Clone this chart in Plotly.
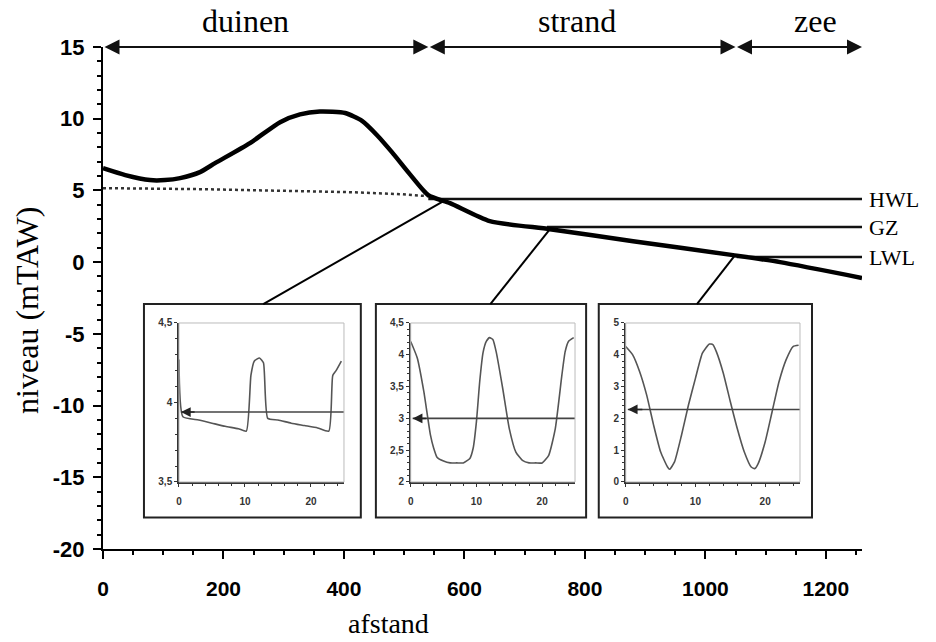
import numpy as np
import plotly.graph_objects as go

# ---------------- data ----------------
profile_x = [0, 37, 78, 103, 128, 161, 186, 244, 294, 327, 360, 402, 430, 455, 480, 510, 540, 576, 642, 742, 880, 1046, 1124, 1260]
profile_y = [6.55, 6.07, 5.72, 5.72, 5.86, 6.28, 6.9, 8.3, 9.76, 10.3, 10.5, 10.4, 9.85, 8.85, 7.65, 6.1, 4.67, 4.11, 2.86, 2.3, 1.46, 0.49, 0.0, -1.1]

gw_x = [0, 161, 327, 410, 493, 540]
gw_y = [5.16, 5.09, 4.95, 4.88, 4.74, 4.6]

level_names = ["HWL", "GZ", "LWL"]
level_values = [4.4, 2.45, 0.35]
level_start = [540, 737, 1052]
x_end = 1260

zone_names = ["duinen", "strand", "zee"]
zone_edges = [0, 540, 1050, 1260]
zone_label_x = [236, 787, 1183]

y_tickvals = [-20, -15, -10, -5, 0, 5, 10, 15]
y_ticktext = ["-20", "-15", "-10", "-5", "0", "5", "10", "15"]

# insets (time in hours, water level)
inset_t = [
    [0, 0.6, 3, 5, 7, 9, 10.2, 10.9, 11.4, 12.2, 12.8, 13.45, 15, 17, 19, 21, 22.7, 23.3, 23.8, 24.6],
    [0, 1, 2, 3, 3.5, 4, 5, 6, 7, 8, 9, 9.5, 10, 10.5, 11, 11.5, 12, 12.5, 13, 14, 15, 16, 17, 18, 19, 20, 21, 22, 23, 23.5, 24, 24.8],
    [0, 1, 2, 3, 4, 5, 6, 6.3, 7, 8, 9, 10, 11, 12, 12.5, 13, 14, 15, 16, 17, 18, 18.5, 19, 20, 21, 22, 23, 24, 24.8],
]
inset_h = [
    [4.27, 3.91, 3.89, 3.87, 3.85, 3.835, 3.82, 4.17, 4.26, 4.28, 4.25, 3.9, 3.89, 3.87, 3.855, 3.84, 3.82, 4.17, 4.2, 4.26],
    [4.21, 3.95, 3.42, 2.74, 2.53, 2.39, 2.33, 2.3, 2.3, 2.3, 2.37, 2.53, 2.95, 3.58, 4.03, 4.21, 4.27, 4.24, 4.05, 3.47, 2.84, 2.47, 2.34, 2.3, 2.3, 2.3, 2.42, 2.84, 3.68, 4.05, 4.21, 4.27],
    [4.26, 4.0, 3.47, 2.74, 1.79, 0.95, 0.47, 0.4, 0.63, 1.47, 2.42, 3.26, 4.05, 4.34, 4.32, 4.1, 3.42, 2.53, 1.68, 0.95, 0.47, 0.42, 0.58, 1.26, 2.21, 3.16, 3.84, 4.26, 4.3],
]
inset_level = [3.94, 3.0, 2.28]
inset_yrange = [[3.5, 4.5], [2, 4.5], [0, 5]]
inset_ydtick = [0.5, 0.5, 1]
inset_yminor = [0.1, 0.1, 0.2]
inset_xrange = [0, 25]

# inset frames (in main-axis coordinates) and callout lines
inset_box_x0 = [68, 453, 823]
inset_box_x1 = [428, 802, 1177]
box_top = -2.92
box_bottom = -17.8
callout_box_x = [266, 643, 986]
callout_profile_x = [566, 742, 1049]

# ---------------- figure ----------------
serif = "Liberation Serif"
sans = "Liberation Sans"

fig = go.Figure()

# groundwater (dotted)
fig.add_trace(go.Scatter(x=gw_x, y=gw_y, mode="lines",
                         line=dict(color="#333", width=2.5, dash="dot"),
                         showlegend=False, hoverinfo="skip"))
# level lines
for name, val, x0 in zip(level_names, level_values, level_start):
    fig.add_trace(go.Scatter(x=[x0, x_end], y=[val, val], mode="lines",
                             line=dict(color="#111", width=2.5),
                             showlegend=False, hoverinfo="skip"))
# profile
fig.add_trace(go.Scatter(x=profile_x, y=profile_y, mode="lines",
                         line=dict(color="black", width=4.5, shape="spline", smoothing=0.6),
                         showlegend=False, hoverinfo="skip"))

# callout lines
callout_profile_y = list(np.interp(callout_profile_x, profile_x, profile_y))
shapes = []
for bx, px, py in zip(callout_box_x, callout_profile_x, callout_profile_y):
    shapes.append(dict(type="line", xref="x", yref="y", x0=bx, y0=box_top, x1=px, y1=py,
                       line=dict(color="black", width=2)))
# inset frames
for x0, x1 in zip(inset_box_x0, inset_box_x1):
    shapes.append(dict(type="rect", xref="x", yref="y", x0=x0, x1=x1, y0=box_bottom, y1=box_top,
                       line=dict(color="#222", width=2), fillcolor="white", layer="below"))

annotations = []
# zone arrows & labels
for i, name in enumerate(zone_names):
    annotations.append(dict(x=zone_edges[i + 1], y=15, ax=zone_edges[i], ay=15,
                            xref="x", yref="y", axref="x", ayref="y", text="",
                            showarrow=True, arrowhead=2, arrowside="end+start",
                            arrowsize=1.5, arrowwidth=2, arrowcolor="#111",
                            standoff=0, startstandoff=0))
    annotations.append(dict(x=zone_label_x[i], y=1.052, xref="x", yref="paper", text=name,
                            showarrow=False, font=dict(family=serif, size=32, color="black"),
                            xanchor="center", yanchor="middle"))
# level labels
for name, val in zip(level_names, level_values):
    annotations.append(dict(x=1.0, y=val, xref="paper", yref="y", text=name, showarrow=False,
                            xanchor="left", yanchor="middle", xshift=5,
                            font=dict(family=serif, size=22, color="black")))
# axis titles
annotations.append(dict(x=-0.101, y=0.475, xref="paper", yref="paper", text="niveau (mTAW)",
                        textangle=-90, showarrow=False, xanchor="center", yanchor="middle",
                        font=dict(family=serif, size=32, color="black")))
annotations.append(dict(x=0.3755, y=-0.149, xref="paper", yref="paper", text="afstand",
                        showarrow=False, xanchor="center", yanchor="middle",
                        font=dict(family=serif, size=28, color="black")))

# insets
x_domains = [[0.1001, 0.3175], [0.4054, 0.6219], [0.6887, 0.9183]]
y_domain = [0.1335, 0.4502]
layout_axes = {}
for k in range(3):
    n = k + 2
    xa, ya = f"x{n}", f"y{n}"
    fig.add_trace(go.Scatter(x=inset_t[k], y=inset_h[k], mode="lines", xaxis=xa, yaxis=ya,
                             line=dict(color="#555", width=1.6, shape="spline", smoothing=0.5),
                             showlegend=False, hoverinfo="skip"))
    fig.add_trace(go.Scatter(x=[0.3, inset_xrange[1]], y=[inset_level[k]] * 2, mode="lines",
                             xaxis=xa, yaxis=ya, line=dict(color="#444", width=1.6),
                             showlegend=False, hoverinfo="skip"))
    annotations.append(dict(x=0.3, y=inset_level[k], ax=2.6, ay=inset_level[k],
                            xref=xa, yref=ya, axref=xa, ayref=ya, text="", showarrow=True,
                            arrowhead=2, arrowsize=1.3, arrowwidth=1.5, arrowcolor="#222",
                            standoff=0))
    shapes.append(dict(type="rect", xref=f"{xa} domain", yref=f"{ya} domain",
                       x0=0, x1=1, y0=0, y1=1, line=dict(color="#bbb", width=1)))
    tf = dict(family=sans, size=10, color="#333", weight="bold")
    layout_axes[f"xaxis{n}"] = dict(domain=x_domains[k], anchor=ya, range=inset_xrange,
                                    dtick=10, tick0=0, showline=True, linecolor="#333", linewidth=1.5,
                                    ticks="outside", ticklen=3, tickcolor="#333",
                                    minor=dict(dtick=2, ticks="outside", ticklen=2, tickcolor="#333"),
                                    showgrid=False, zeroline=False, tickfont=tf,
                                    ticklabelstandoff=6)
    layout_axes[f"yaxis{n}"] = dict(domain=y_domain, anchor=xa, range=inset_yrange[k],
                                    dtick=inset_ydtick[k], tick0=0, showline=True, linecolor="#333",
                                    linewidth=1.5, ticks="outside", ticklen=3, tickcolor="#333",
                                    minor=dict(dtick=inset_yminor[k], ticks="outside", ticklen=2,
                                               tickcolor="#333"),
                                    showgrid=False, zeroline=False, tickfont=tf)

fig.update_layout(
    width=936, height=642,
    margin=dict(l=103, r=74, t=47, b=93),
    paper_bgcolor="white", plot_bgcolor="white",
    separators=",.",
    showlegend=False,
    xaxis=dict(domain=[0, 1], range=[0, 1260], dtick=200, tick0=0, showline=True,
               linecolor="black", linewidth=2, ticks="outside", ticklen=8, tickwidth=1.5,
               tickcolor="black",
               minor=dict(dtick=50, ticks="outside", ticklen=4, tickcolor="black"),
               showgrid=False, zeroline=False,
               tickfont=dict(family=sans, size=21, color="black", weight="bold"),
               ticklabelstandoff=12),
    yaxis=dict(domain=[0, 1], range=[-20, 15], tickvals=y_tickvals, ticktext=y_ticktext,
               showline=True,
               linecolor="black", linewidth=2, ticks="outside", ticklen=8, tickwidth=1.5,
               tickcolor="black",
               minor=dict(dtick=1, ticks="outside", ticklen=4, tickcolor="black"),
               showgrid=False, zeroline=False,
               tickfont=dict(family=sans, size=22, color="black", weight="bold"),
               ticklabelstandoff=4),
    shapes=shapes,
    annotations=annotations,
    **layout_axes,
)

fig.write_html("out.html")
